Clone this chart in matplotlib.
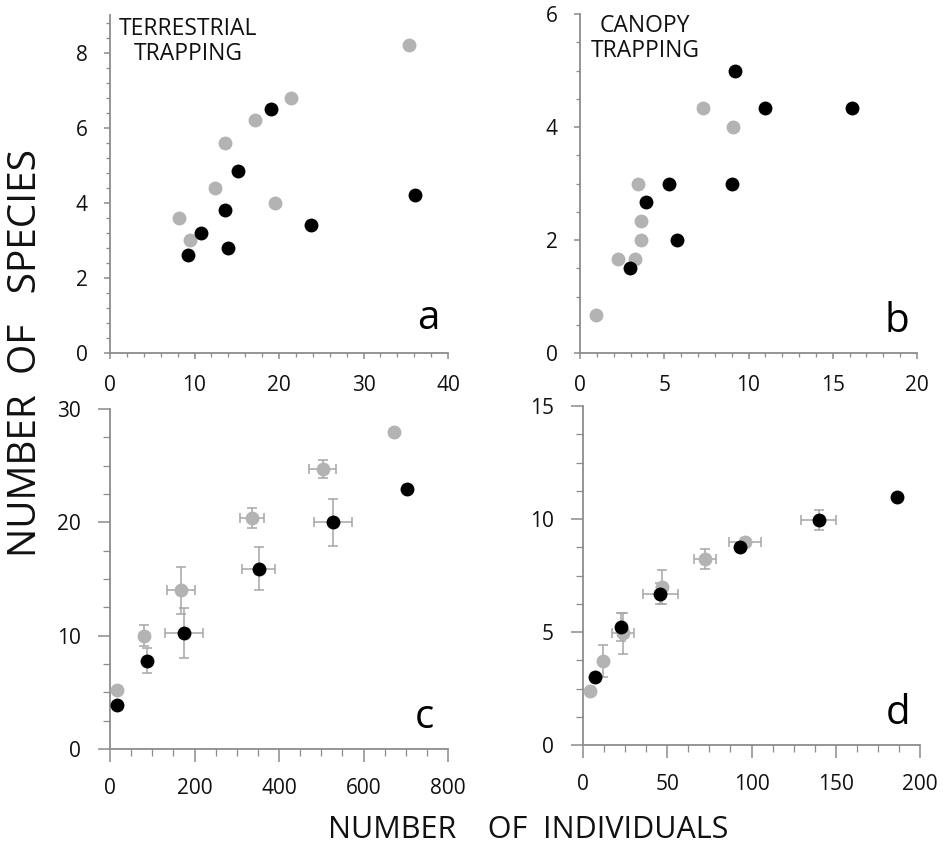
import matplotlib
matplotlib.use("Agg")
import matplotlib.pyplot as plt
from matplotlib.ticker import MultipleLocator

plt.rcParams['font.family'] = ['Open Sans', 'DejaVu Sans']

# Panel a: terrestrial trapping
a_gray_x = [8.2, 9.5, 12.4, 13.6, 17.2, 21.4, 19.5, 35.4]
a_gray_y = [3.6, 3.0, 4.4, 5.6, 6.2, 6.8, 4.0, 8.2]
a_black_x = [9.2, 10.8, 13.6, 14.0, 15.1, 19.0, 23.8, 36.1]
a_black_y = [2.6, 3.2, 3.8, 2.8, 4.85, 6.5, 3.4, 4.2]

# Panel b: canopy trapping
b_gray_x = [0.93, 2.25, 3.28, 3.42, 3.62, 3.62, 7.3, 9.07]
b_gray_y = [0.67, 1.67, 1.67, 3.0, 2.33, 2.0, 4.33, 4.0]
b_black_x = [2.96, 3.93, 5.28, 5.73, 9.03, 9.19, 10.97, 16.17]
b_black_y = [1.5, 2.67, 3.0, 2.0, 3.0, 5.0, 4.33, 4.33]

# Panel c
c_gray_x = [17, 81, 168, 336, 504, 672]
c_gray_y = [5.2, 10.0, 14.0, 20.4, 24.7, 28.0]
c_gray_xerr = [0, 0, 33, 29, 32, 0]
c_gray_yerr = [0, 0.9, 2.1, 0.9, 0.8, 0]
c_black_x = [17, 87, 175, 352, 528, 703]
c_black_y = [3.9, 7.8, 10.2, 15.9, 20.0, 22.9]
c_black_xerr = [0, 0, 44, 39, 45, 0]
c_black_yerr = [0, 1.1, 2.2, 1.9, 2.05, 0]

# Panel d
d_gray_x = [4.0, 11.9, 23.6, 47.1, 72.3, 96.2]
d_gray_y = [2.4, 3.72, 4.94, 7.0, 8.23, 8.97]
d_gray_xerr = [0, 0, 6.5, 0, 6.5, 9.5]
d_gray_yerr = [0, 0.7, 0.9, 0.75, 0.45, 0.2]
d_black_x = [6.9, 22.8, 45.9, 92.9, 139.8, 186.1]
d_black_y = [3.0, 5.22, 6.70, 8.78, 9.96, 10.97]
d_black_xerr = [0, 0, 10.5, 0, 10.3, 0]
d_black_yerr = [0, 0.6, 0.45, 0, 0.43, 0]

GRAY = '#b3b3b3'
ERR = '#a6a6a6'
SPINE = '#8c8c8c'
MS = 10

fig = plt.figure(figsize=(9.43, 8.5), dpi=100)

def style(ax, xlim, ylim, xmaj, xmin, ymaj, ymin, tl_maj, tl_min):
    ax.set_xlim(*xlim)
    ax.set_ylim(*ylim)
    for s in ['top', 'right']:
        ax.spines[s].set_visible(False)
    for s in ['left', 'bottom']:
        ax.spines[s].set_color(SPINE)
        ax.spines[s].set_linewidth(1.3)
    ax.xaxis.set_major_locator(MultipleLocator(xmaj))
    ax.xaxis.set_minor_locator(MultipleLocator(xmin))
    ax.yaxis.set_major_locator(MultipleLocator(ymaj))
    ax.yaxis.set_minor_locator(MultipleLocator(ymin))
    ax.tick_params(which='major', length=tl_maj, width=1.1, color=SPINE,
                   labelsize=15, labelcolor='#111111', direction='out')
    ax.tick_params(which='minor', length=tl_min, width=0.9, color=SPINE, direction='out')
    ax.tick_params(axis='x', which='major', pad=12)
    ax.tick_params(axis='y', which='major', pad=12)
    for sp in ax.spines.values():
        sp.set_zorder(0.5)

def dots(ax, x, y, color):
    ax.plot(x, y, 'o', color=color, markersize=MS, markeredgewidth=0, zorder=3 if color == 'black' else 2,
            clip_on=False)

def errs(ax, x, y, xe, ye):
    ax.errorbar(x, y, xerr=xe, yerr=ye, fmt='none', ecolor=ERR, elinewidth=1.1,
                capsize=3.5, capthick=1.1, zorder=1)

# a
axa = fig.add_axes([110/943, 1-353/850, 338/943, 338/850])
style(axa, (0, 40), (0, 9), 10, 2, 2, 0.4, 4, 3)
dots(axa, a_gray_x, a_gray_y, GRAY)
dots(axa, a_black_x, a_black_y, 'black')
axa.text(0.231, 0.995, 'TERRESTRIAL\nTRAPPING', transform=axa.transAxes,
         ha='center', va='top', fontsize=16.5, linespacing=1.05, color='#111111')
axa.text(0.975, 0.07, 'a', transform=axa.transAxes, ha='right', va='baseline', fontsize=29)

# b
axb = fig.add_axes([580/943, 1-353/850, 337/943, 339/850])
style(axb, (0, 20), (0, 6), 5, 1, 2, 0.5, 4, 3)
dots(axb, b_gray_x, b_gray_y, GRAY)
dots(axb, b_black_x, b_black_y, 'black')
axb.text(0.193, 1.0, 'CANOPY\nTRAPPING', transform=axb.transAxes,
         ha='center', va='top', fontsize=16.5, linespacing=1.05, color='#111111')
axb.text(0.978, 0.062, 'b', transform=axb.transAxes, ha='right', va='baseline', fontsize=29)

# c
axc = fig.add_axes([110/943, 1-749/850, 338/943, 340/850])
style(axc, (0, 800), (0, 30), 200, 50, 10, 2.5, 9, 5)
errs(axc, c_gray_x, c_gray_y, c_gray_xerr, c_gray_yerr)
errs(axc, c_black_x, c_black_y, c_black_xerr, c_black_yerr)
dots(axc, c_gray_x, c_gray_y, GRAY)
dots(axc, c_black_x, c_black_y, 'black')
axc.text(0.96, 0.062, 'c', transform=axc.transAxes, ha='right', va='baseline', fontsize=29)

# d
axd = fig.add_axes([583/943, 1-745/850, 337/943, 339/850])
style(axd, (0, 200), (0, 15), 50, 12.5, 5, 1.25, 9, 5)
errs(axd, d_gray_x, d_gray_y, d_gray_xerr, d_gray_yerr)
errs(axd, d_black_x, d_black_y, d_black_xerr, d_black_yerr)
dots(axd, d_gray_x, d_gray_y, GRAY)
dots(axd, d_black_x, d_black_y, 'black')
axd.text(0.97, 0.062, 'd', transform=axd.transAxes, ha='right', va='baseline', fontsize=29)

fig.text(26/943, 1-353/850, 'NUMBER  OF   SPECIES', rotation=90, ha='center', va='center',
         fontsize=28, color='#111111')
fig.text(528/943, 1-830/850, 'NUMBER    OF  INDIVIDUALS', ha='center', va='center',
         fontsize=22, color='#111111')

fig.savefig('out.png', dpi=100)
